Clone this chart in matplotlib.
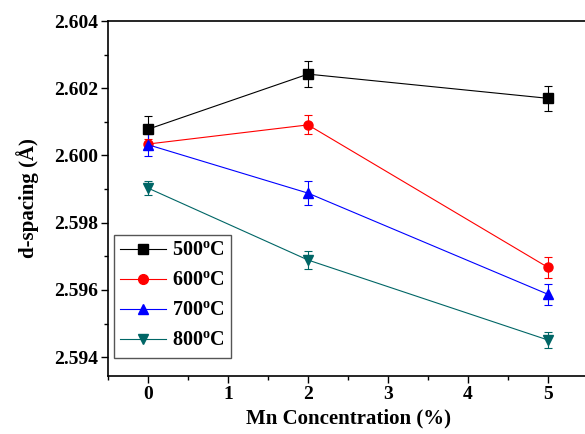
import matplotlib

matplotlib.use("Agg")

import matplotlib.pyplot as plt
from matplotlib.lines import Line2D
from matplotlib.ticker import MultipleLocator, FormatStrFormatter

plt.rcParams["font.family"] = "Liberation Serif"
plt.rcParams["font.weight"] = "bold"
plt.rcParams["mathtext.fontset"] = "custom"
plt.rcParams["mathtext.rm"] = "Liberation Serif:bold"
plt.rcParams["mathtext.bf"] = "Liberation Serif:bold"

mn = [0, 2, 5]
labels = ["500$^{\\mathrm{o}}$C", "600$^{\\mathrm{o}}$C", "700$^{\\mathrm{o}}$C", "800$^{\\mathrm{o}}$C"]
d_500 = [2.60078, 2.60242, 2.60170]
d_600 = [2.60034, 2.60091, 2.59667]
d_700 = [2.60032, 2.59888, 2.59587]
d_800 = [2.59903, 2.59689, 2.59451]
err_500 = [0.00038, 0.00038, 0.00037]
err_600 = [0.00016, 0.00028, 0.00030]
err_700 = [0.00033, 0.00035, 0.00031]
err_800 = [0.00022, 0.00027, 0.00025]

series = [d_500, d_600, d_700, d_800]
errors = [err_500, err_600, err_700, err_800]
colors = ["black", "red", "blue", "#006666"]
markers = ["s", "o", "^", "v"]

fig = plt.figure(figsize=(5.85, 4.34), dpi=100)
ax = fig.add_axes([108 / 585, 1 - 376 / 434, 480 / 585, 355 / 434])

handles = []
for y, e, c, m, lab in zip(series, errors, colors, markers, labels):
    ax.errorbar(mn, y, yerr=e, color=c, marker=m, markersize=6.5, lw=0.8,
                elinewidth=0.8, capsize=3, capthick=0.8)
    handles.append(Line2D([], [], color=c, marker=m, markersize=7, lw=0.8, label=lab))

ax.set_xlim(-0.5, 5.5)
ax.set_ylim(2.59344, 2.604)
ax.xaxis.set_major_locator(MultipleLocator(1))
ax.xaxis.set_minor_locator(MultipleLocator(0.5))
ax.yaxis.set_major_locator(MultipleLocator(0.002))
ax.yaxis.set_minor_locator(MultipleLocator(0.001))
ax.yaxis.set_major_formatter(FormatStrFormatter("%.3f"))
ax.tick_params(which="both", direction="out", top=False, right=False, labelsize=14, width=1)
ax.tick_params(which="major", length=5, pad=2)
ax.tick_params(which="minor", length=3)
for s in ax.spines.values():
    s.set_linewidth(1.2)

ax.set_xlabel("Mn Concentration (%)", fontsize=15, fontweight="bold", labelpad=4)
ax.set_ylabel("d-spacing (Å)", fontsize=15, fontweight="bold", labelpad=11)

leg = ax.legend(handles=handles, loc="lower left", bbox_to_anchor=(0.0, 0.035), fontsize=14.5,
                handlelength=2.3, fancybox=False, edgecolor="#555555", framealpha=1,
                borderpad=0.3, labelspacing=0.5, handletextpad=0.3, borderaxespad=0.3)
leg.get_frame().set_linewidth(1)

fig.savefig("out.png", dpi=100)
